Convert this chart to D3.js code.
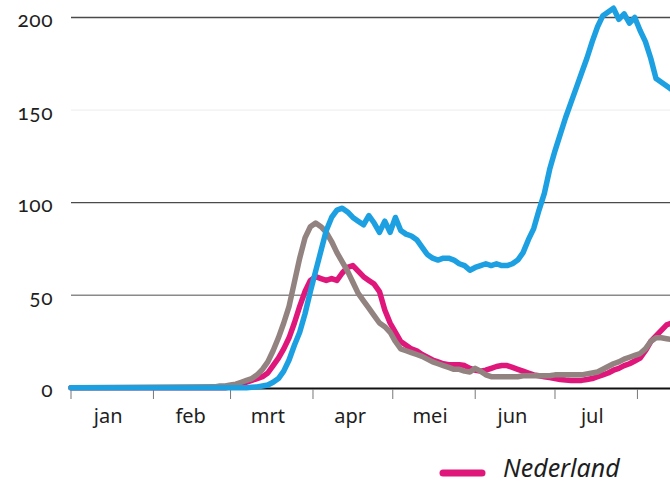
<!DOCTYPE html>
<html lang="nl">
<head>
<meta charset="UTF-8">
<script src="https://d3js.org/d3.v7.min.js"></script>
<style>
  body { margin: 0; background: #fff; }
  svg text { font-family: "Noto Sans", sans-serif; fill: #1e1e1e; }
  .ylab { font-family: Lato, "Noto Sans", sans-serif; font-size: 21px; font-variant-numeric: oldstyle-nums; font-feature-settings: "onum" 1; letter-spacing: 0.5px; }
  .mlab { font-size: 20px; }
  .legend { font-size: 25px; font-style: italic; }
</style>
</head>
<body>
<svg width="670" height="490"></svg>
<script>
// first point is 1 jan, then one reading every 2 days from 24 feb
const leadIn = "2020-01-01";
const sampleStart = "2020-02-24";
const sampleStep = 2;

const monthNames = ["jan", "feb", "mrt", "apr", "mei", "jun", "jul"];
const yTicks = [0, 50, 100, 150, 200];

const blue = [0,
  0, 0, 0, 0, 0, 0, 0, 0.3, 0.5, 1,
  1.5, 3, 5, 9, 15, 23, 30, 40, 52, 63,
  74, 85, 92, 96, 97, 95, 92, 90, 88, 93,
  89, 84, 90, 84, 92, 85, 83, 82, 80, 76,
  72, 70, 69, 70, 70, 69, 67, 66, 63.5, 65,
  66, 67, 66, 67, 66, 66, 67, 69, 73, 80,
  86, 96, 105, 118, 128, 137, 146, 154, 162, 170,
  178, 187, 195, 201, 203, 205, 199, 202, 197, 200,
  193, 187, 178, 167, 165, 163, 161];

const nederland = [0,
  0, 0, 0, 0.5, 1, 2, 3, 4, 5, 6,
  8, 12, 16, 21, 27, 35, 44, 52, 58, 60,
  59, 58, 59, 58, 62, 65, 66, 63, 60, 58,
  56, 52, 42, 35, 30, 25, 23, 21, 20, 18,
  16.5, 15, 14, 13, 12.5, 12.5, 12.5, 12, 10.5, 9.5,
  9, 9.5, 10.5, 11.5, 12, 12, 11, 10, 9, 8,
  7, 6.5, 6, 5.5, 5, 4.5, 4.2, 4, 4, 4,
  4.5, 5, 6, 7, 8, 9.5, 10.5, 12, 13, 14.5,
  16, 20, 25, 28, 31, 34, 35];

const grey = [0,
  0.5, 1, 1, 1.5, 2, 3, 4, 5, 7, 10,
  14, 20, 27, 35, 44, 57, 70, 81, 87, 89,
  87, 84, 79, 73, 68, 63, 57, 51, 47, 43,
  39, 35, 33, 30, 25, 21, 20, 19, 18, 17,
  15.5, 14, 13, 12, 11, 10, 10, 9, 8.5, 10.5,
  9, 7, 6, 6, 6, 6, 6, 6, 6.5, 6.5,
  6.5, 6.5, 6.5, 6.5, 7, 7, 7, 7, 7, 7,
  7.5, 8, 8.5, 10, 11.5, 13, 14, 15.5, 16.5, 17.5,
  18.5, 21, 25, 27, 27, 26.5, 26];

const parse = d3.timeParse("%Y-%m-%d");
const dates = [parse(leadIn)].concat(
  d3.range(blue.length - 1).map(i => d3.timeDay.offset(parse(sampleStart), i * sampleStep)));

const svg = d3.select("svg");

const x = d3.scaleTime()
    .domain([new Date(2020, 0, 1), new Date(2020, 7, 14)])
    .range([71, 672]);
const y = d3.scaleLinear()
    .domain([0, 200])
    .range([387.8, 17.5]);

// gridlines, the 150 one is very faint in the original
const gridColor = v => v === 150 ? "#ececec" : v === 50 ? "#8a8a8a" : "#4a4a4a";
svg.append("g").selectAll("line")
    .data(yTicks.filter(v => v > 0))
    .join("line")
    .attr("x1", x.range()[0]).attr("x2", 670)
    .attr("y1", d => y(d)).attr("y2", d => y(d))
    .attr("stroke", gridColor)
    .attr("stroke-width", d => d === 150 ? 1 : 1.4);

svg.append("g").selectAll("text")
    .data(yTicks)
    .join("text")
    .attr("class", "ylab")
    .attr("x", 53)
    .attr("y", d => y(d) + 9.5)
    .attr("text-anchor", "end")
    .text(d => d);

// x axis
const monthStarts = d3.timeMonth.range(new Date(2020, 0, 1), new Date(2020, 7, 2));
svg.append("line")
    .attr("x1", x.range()[0]).attr("x2", 670)
    .attr("y1", 388.5).attr("y2", 388.5)
    .attr("stroke", "#111").attr("stroke-width", 2);
svg.append("g").selectAll("line")
    .data(monthStarts)
    .join("line")
    .attr("x1", d => x(d)).attr("x2", d => x(d))
    .attr("y1", 389).attr("y2", 399)
    .attr("stroke", "#777").attr("stroke-width", 1);
svg.append("g").selectAll("text")
    .data(monthNames)
    .join("text")
    .attr("class", "mlab")
    .attr("x", (d, i) => x(new Date(2020, i, 15)))
    .attr("y", 423)
    .attr("text-anchor", "middle")
    .text(d => d);

const line = d3.line()
    .x((d, i) => x(dates[i]))
    .y(d => y(d));

const series = [
  { name: "Nederland", values: nederland, color: "#e0177b" },
  { name: "grijs", values: grey, color: "#928380" },
  { name: "blauw", values: blue, color: "#1ca0e2" }
];

svg.append("g").selectAll("path")
    .data(series)
    .join("path")
    .attr("d", d => line(d.values))
    .attr("fill", "none")
    .attr("stroke", d => d.color)
    .attr("stroke-width", 5.5)
    .attr("stroke-linejoin", "round")
    .attr("stroke-linecap", "round");

// legend (only the Nederland entry is in frame)
const leg = svg.append("g").attr("transform", "translate(443,473)");
leg.append("line")
    .attr("x1", 0).attr("x2", 39)
    .attr("stroke", series[0].color)
    .attr("stroke-width", 7)
    .attr("stroke-linecap", "round");
leg.append("text")
    .attr("class", "legend")
    .attr("x", 60).attr("y", 4)
    .text(series[0].name);
</script>
</body>
</html>
